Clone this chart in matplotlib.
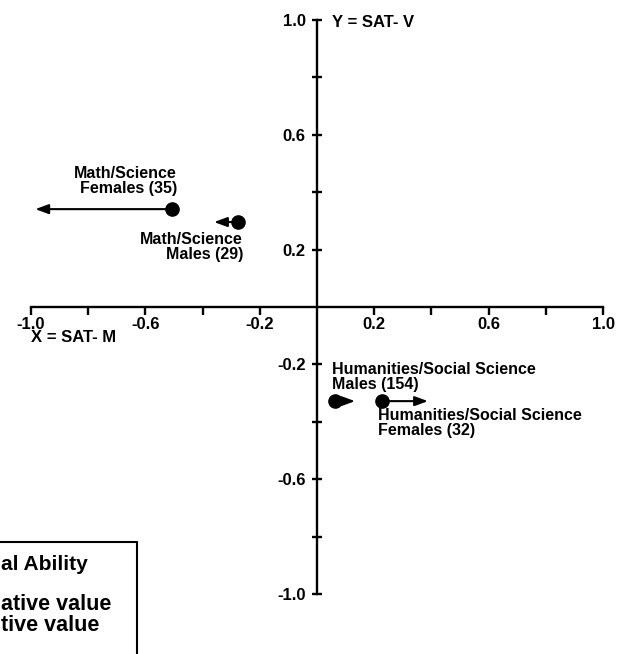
import matplotlib
matplotlib.use('Agg')
import matplotlib.pyplot as plt
from matplotlib.patches import Rectangle

plt.rcParams['font.family'] = ['Liberation Sans', 'DejaVu Sans']
plt.rcParams['font.weight'] = 'bold'
plt.rcParams['axes.unicode_minus'] = False

# group means on the two axes, and where the spatial-ability arrow points
groups = ['Math/Science\nFemales (35)', 'Math/Science\nMales (29)',
          'Humanities/Social Science\nMales (154)', 'Humanities/Social Science\nFemales (32)']
sat_m = [-0.507, -0.276, 0.063, 0.227]
sat_v = [0.341, 0.296, -0.328, -0.328]
arrow_to = [-0.985, -0.36, 0.133, 0.388]

major_ticks = [-1.0, -0.6, -0.2, 0.2, 0.6, 1.0]
minor_ticks = [-0.8, -0.4, 0.4, 0.8]
tick_labels = ['-1.0', '-0.6', '-0.2', '0.2', '0.6', '1.0']

# legend text as far as it shows inside the picture
legend_lines = ['al Ability', 'ative value', 'tive value']

# label placement (offset points from the dot) and alignment
label_offsets = [(3.6, 20), (3.6, -18), (-2, 17.6), (-3, -16)]
label_ha = ['right', 'right', 'left', 'left']

W, H = 625, 654
fig = plt.figure(figsize=(W / 100, H / 100), dpi=100)
ax = fig.add_axes([0, 0, 1, 1])
ax.set_xlim(-317 / 286, (W - 317) / 286)
ax.set_ylim((307 - H) / 287, 307 / 287)

for s in ['top', 'right']:
    ax.spines[s].set_visible(False)
for s in ['left', 'bottom']:
    ax.spines[s].set_position(('data', 0))
    ax.spines[s].set_bounds(-1, 1)
    ax.spines[s].set_linewidth(1.7)

ax.set_xticks(major_ticks, tick_labels, fontsize=12, fontweight='bold')
ax.set_xticks(minor_ticks, minor=True)
ax.set_yticks(major_ticks, tick_labels, fontsize=12, fontweight='bold')
ax.set_yticks(minor_ticks, minor=True)
ax.tick_params(axis='x', which='both', direction='out', length=6, width=1.7, pad=1)
ax.tick_params(axis='y', which='both', direction='inout', length=6.5, width=1.7, pad=5)

for i in range(len(groups)):
    ax.annotate('', xy=(arrow_to[i], sat_v[i]), xytext=(sat_m[i], sat_v[i]),
                arrowprops=dict(arrowstyle='-|>,head_length=0.6,head_width=0.22',
                                mutation_scale=13, lw=1.5, color='black',
                                shrinkA=0, shrinkB=0))
ax.plot(sat_m, sat_v, 'o', color='black', markersize=9.5, zorder=5)

for i, g in enumerate(groups):
    ax.annotate(g, (sat_m[i], sat_v[i]), xytext=label_offsets[i], textcoords='offset points',
                ha=label_ha[i], va='center', multialignment=label_ha[i],
                fontsize=11.5, fontweight='bold', linespacing=1.0)

ax.text(0.052, 0.99, 'Y = SAT- V', ha='left', va='center', fontsize=12, fontweight='bold')
ax.text(-1.0, -0.105, 'X = SAT- M', ha='left', va='center', fontsize=12, fontweight='bold')

# legend box, cut off at the figure edge
fig.patches.append(Rectangle((-20 / W, -10 / H), 157 / W, (H - 542 + 10) / H,
                             transform=fig.transFigure, fill=False, lw=1.5, ec='black'))
fig.text(1 / W, 1 - 570 / H, legend_lines[0], ha='left', va='baseline', fontsize=15, fontweight='bold')
fig.text(1 / W, 1 - 610 / H, legend_lines[1], ha='left', va='baseline', fontsize=15.5, fontweight='bold')
fig.text(1 / W, 1 - 631 / H, legend_lines[2], ha='left', va='baseline', fontsize=15.5, fontweight='bold')

fig.savefig('out.png', dpi=100)
